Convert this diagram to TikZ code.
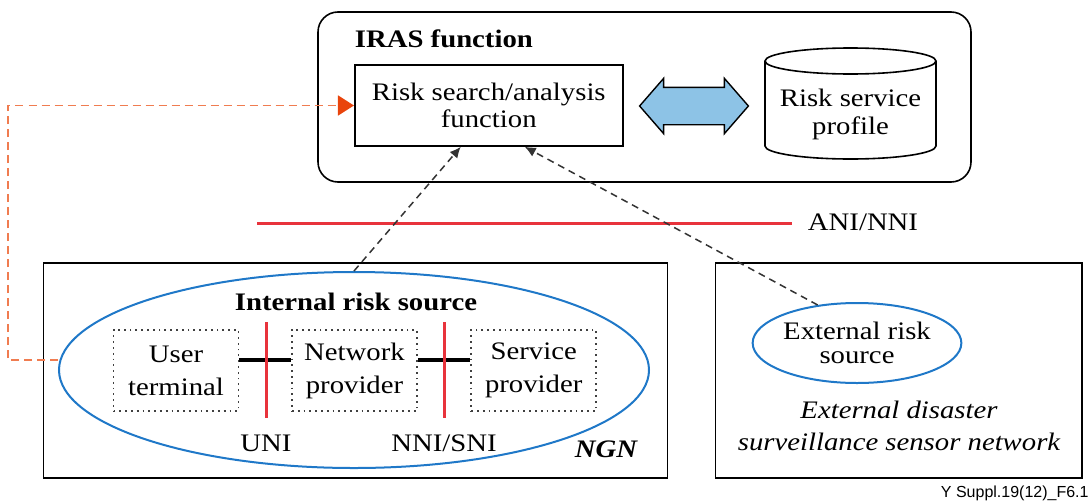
\documentclass[tikz,border=0pt]{standalone}
\usepackage{fontspec}
\setmainfont{Liberation Serif}[FakeStretch=1.14]
\setsansfont{Liberation Sans}
\usepackage{tikz}
\usetikzlibrary{arrows.meta,positioning,shapes.geometric,shapes.arrows}
\definecolor{irasred}{HTML}{E8333C}
\definecolor{irasblue}{HTML}{1F78C8}
\definecolor{arrowblue}{HTML}{8DC3E6}
\definecolor{flowline}{HTML}{F07C50}
\definecolor{flowtip}{HTML}{E9440C}
\newcommand{\irasfnt}{\fontsize{12.6}{15}\selectfont}

\begin{document}
\begin{tikzpicture}[x=0.5pt, y=-0.5pt, >=Latex, font=\irasfnt,
  box/.style={rectangle, draw, line width=0.8pt, inner sep=0pt},
  dotbox/.style={rectangle, draw=black!75, dash pattern=on 0.9pt off 2pt,
            line width=0.8pt, align=center,
            minimum width=62.5pt, minimum height=40.5pt, inner sep=0pt},
  src/.style={ellipse, draw=irasblue, line width=1pt, inner sep=0pt, align=center},
  iface/.style={draw=irasred, line width=1.5pt},
  link/.style={draw, line width=1.6pt},
  flow/.style={-{Latex[length=5.5pt,width=5pt]}, draw=black!80,
            dash pattern=on 3.5pt off 2.5pt, line width=0.75pt},
  lbl/.style={inner sep=0pt}]
  \useasboundingbox (0,0) rectangle (1090,503);

  % IRAS function
  \node[box, rounded corners=10pt, minimum width=326.5pt, minimum height=85pt]
       (iras) at (644.5,97) {};
  \node[lbl, anchor=west, font=\irasfnt\bfseries] (irast) at (354.5,39) {IRAS function};
  \node[box, minimum width=134pt, minimum height=40.5pt, align=center]
       (rsf) at (488.75,105.5) {Risk search/analysis\\[-1.5pt]function};
  \draw[line width=0.8pt, fill=white] (765,61) -- (765,146)
        arc[start angle=180, end angle=0, x radius=85.5, y radius=13] -- (936,61)
        arc[start angle=0, end angle=-180, x radius=85.5, y radius=13] -- cycle;
  \draw[line width=0.8pt] (765,61)
        arc[start angle=180, end angle=0, x radius=85.5, y radius=13];
  \node[lbl, align=center] (rsp) at (850.5,114) {Risk service\\[-1pt]profile};
  \node[double arrow, draw, fill=arrowblue, line width=0.7pt, inner xsep=0pt,
        inner ysep=9pt, minimum height=54.4pt, double arrow head extend=4.5pt,
        double arrow tip angle=98] (dbl) at (694,106) {};

  % ANI/NNI
  \coordinate (anil) at (257,223);
  \coordinate (anir) at (792,223);
  \draw[iface] (anil) -- (anir);
  \node[lbl] (ani) at (863,222) {ANI/NNI};

  % NGN
  \node[box, minimum width=312pt, minimum height=107.5pt] (ngn) at (355.3,370.5) {};
  \node[src, minimum width=295pt, minimum height=98pt] (irs) at (354,370) {};
  \node[lbl, font=\irasfnt\bfseries] (irst) at (356,302) {Internal risk source};
  \node[dotbox] (ut) at (176,370.5) {User\\[1.5pt]terminal};
  \node[dotbox] (np) at (354.5,370.5) {Network\\[1.5pt]provider};
  \node[dotbox] (sp) at (533.7,370.5) {Service\\[1.5pt]provider};
  \draw[link] ([yshift=5.25pt]ut.east) -- ([yshift=5.25pt]np.west);
  \draw[link] ([yshift=5.25pt]np.east) -- ([yshift=5.25pt]sp.west);
  \coordinate (unit) at (266,322);
  \coordinate (unib) at (266,418);
  \coordinate (nnit) at (444,322);
  \coordinate (nnib) at (444,418);
  \draw[iface] (unit) -- (unib);
  \draw[iface] (nnit) -- (nnib);
  \node[lbl] (uni) at (266,443) {UNI};
  \node[lbl] (nni) at (444,443) {NNI/SNI};
  \node[lbl, font=\irasfnt\bfseries\itshape] (ngnt) at (606,449) {NGN};

  % external network
  \node[box, minimum width=183.4pt, minimum height=107.5pt] (ext) at (898.7,370.5) {};
  \node[src, minimum width=101pt, minimum height=40pt] (ers) at (857,343)
       {External risk\\[-3pt]source};
  \node[lbl, align=center, font=\irasfnt\itshape] (edt) at (899,426)
       {External disaster\\[1pt]surveillance sensor network};

  % risk flows
  \coordinate (lft) at (8,0);
  \draw[flowline, dash pattern=on 4pt off 2.5pt, line width=0.9pt,
        -{Triangle[length=8pt,width=10pt,color=flowtip]}]
        ([yshift=5pt]irs.west) -- ([yshift=5pt]irs.west -| lft)
        -- (rsf.west -| lft) -- (rsf.west);
  \draw[flow] (irs.north) -- ([xshift=-14pt]rsf.south);
  \draw[flow] (ers.136) -- ([xshift=18pt]rsf.south);

  \node[lbl, anchor=east, font=\sffamily\fontsize{8}{9}\selectfont] (figid)
       at (1089,493) {Y Suppl.19(12)\_F6.1};
\end{tikzpicture}
\end{document}
